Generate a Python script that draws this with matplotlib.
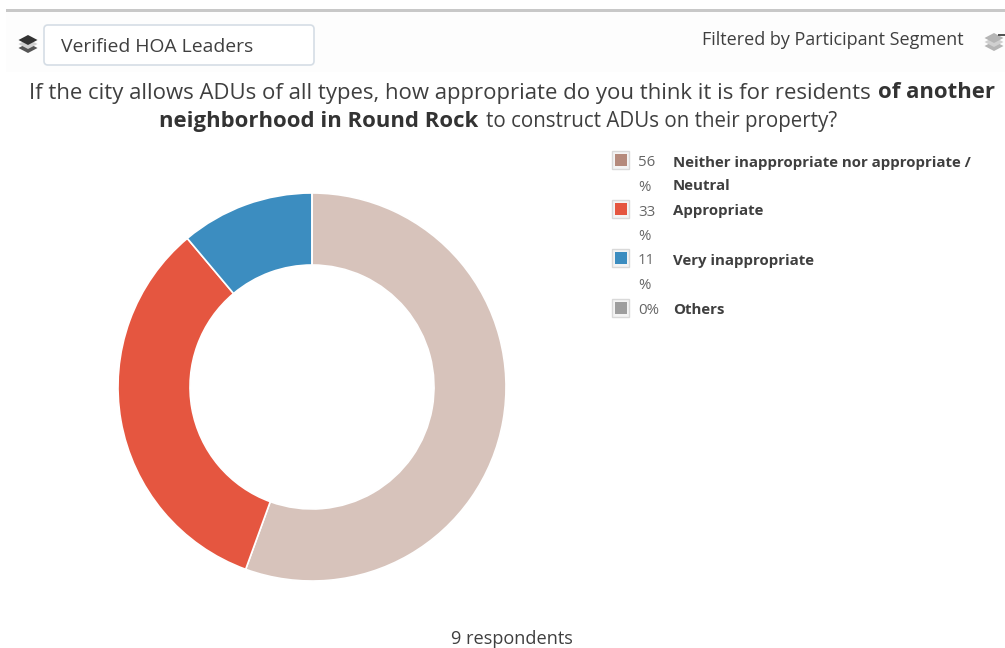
import matplotlib
matplotlib.use("Agg")
import matplotlib.pyplot as plt
from matplotlib.patches import FancyBboxPatch, Polygon, Rectangle

plt.rcParams["font.family"] = ["Open Sans", "DejaVu Sans"]

# respondents per answer, 9 in total
labels = ["Neither inappropriate nor appropriate /\nNeutral", "Appropriate", "Very inappropriate", "Others"]
counts = [5, 3, 1, 0]
percents = ["56\n%", "33\n%", "11\n%", "0%"]
pie_colors = ["#d7c3bb", "#e55640", "#3c8dc0", "#9e9e9e"]
swatch_colors = ["#b58a7c", "#e55640", "#3c8dc0", "#9e9e9e"]
legend_y = [160, 209, 258, 308]

W, H = 1005, 648
TEXT = "#3f3f3f"

fig = plt.figure(figsize=(W / 100, H / 100), dpi=100)

# pixel coordinate overlay
bg = fig.add_axes([0, 0, 1, 1])
bg.set_xlim(0, W)
bg.set_ylim(H, 0)
bg.axis("off")

bg.add_patch(Rectangle((6, 9), W - 6, 2.5, color="#c8c8c8", lw=0))
bg.add_patch(Rectangle((6, 11.5), W - 6, 60, color="#fdfdfd", lw=0))


def layers(cx, cy, top, low):
    # stacked layers icon
    for off, col in [(8, low), (4, "#d0d0d0"), (0, top)]:
        bg.add_patch(Polygon([(cx - 9.5, cy - 3 + off), (cx, cy - 8 + off), (cx + 9.5, cy - 3 + off), (cx, cy + 2 + off)],
                             closed=True, color=col, lw=0))


def fit_text(x0, x1, y, s, **kw):
    # scale the font so the string spans x0..x1 pixels
    t = bg.text(x0, y, s, fontsize=16, va="center", **kw)
    width = t.get_window_extent(fig.canvas.get_renderer()).width
    t.set_fontsize(16 * (x1 - x0) / width)
    return t


layers(28, 43, "#333333", "#555555")
layers(994, 41, "#b5b5b5", "#b5b5b5")
bg.add_patch(Rectangle((998, 34), 7, 1.5, color="#555555", lw=0))

bg.add_patch(FancyBboxPatch((44, 25), 270, 40, boxstyle="round,pad=0,rounding_size=4",
                            fc="white", ec="#d5dde5", lw=1.2))
fit_text(61, 254, 47, "Verified HOA Leaders", color=TEXT)
fit_text(702, 965, 40, "Filtered by Participant Segment", color=TEXT)

fit_text(29, 872, 94, "If the city allows ADUs of all types, how appropriate do you think it is for residents", color=TEXT)
fit_text(878, 995, 93, "of another", color="#333333", fontweight="bold")
fit_text(159, 479, 121, "neighborhood in Round Rock", color="#333333", fontweight="bold")
fit_text(486, 838, 121, "to construct ADUs on their property?", color=TEXT)

# donut, centre (312, 387), outer radius 194
ax = fig.add_axes([(312 - 200) / W, 1 - (387 + 200) / H, 400 / W, 400 / H])
ax.pie(counts, colors=pie_colors, startangle=90, counterclock=False, radius=194 / 200,
       wedgeprops={"width": 72 / 200, "edgecolor": "white", "linewidth": 1.2})
ax.set_xlim(-1, 1)
ax.set_ylim(-1, 1)

# legend
for i, lab in enumerate(labels):
    y = legend_y[i]
    bg.add_patch(Rectangle((612, y - 9), 17, 18, fc="#f4f4f4", ec="#d9d9d9", lw=1))
    bg.add_patch(Rectangle((614.5, y - 6.5), 12, 12.5, color=swatch_colors[i], lw=0))
    bg.text(638, y - 4.5, percents[i], fontsize=10.8, color="#666666", va="top", linespacing=1.9)
    bg.text(673, y - 4.5, lab, fontsize=10.8, color="#3f3f3f", fontweight="bold", va="top", linespacing=1.9)

fit_text(451, 573, 639, "9 respondents", color=TEXT)

fig.savefig("out.png", dpi=100)
